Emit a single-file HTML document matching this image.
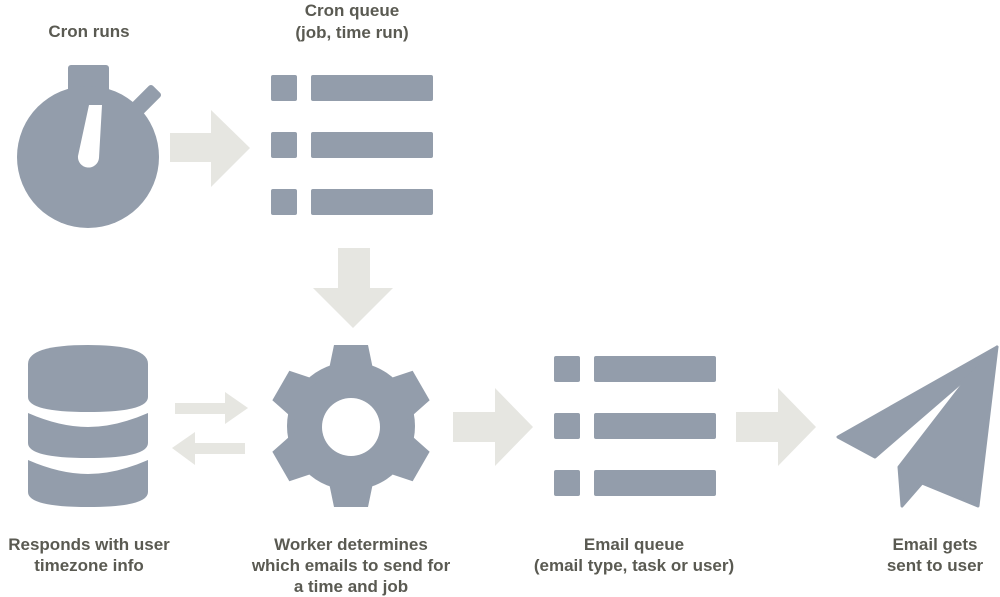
<!DOCTYPE html>
<html><head><meta charset="utf-8"><style>
html,body{margin:0;padding:0;background:#fff;}
svg{display:block}
text{font-family:"Liberation Sans",sans-serif;font-weight:bold;font-size:17px;fill:#5a5a52;text-anchor:middle;}
</style></head><body>
<svg width="1000" height="597" viewBox="0 0 1000 597">
<g fill="#939dab">
  <!-- stopwatch -->
  <rect x="68" y="65" width="41" height="30" rx="3"/>
  <rect x="132" y="92" width="29" height="16" rx="3" transform="rotate(-45 146 100)"/>
  <circle cx="88" cy="157" r="71"/>
</g>
<path d="M89,105 L102,105 L99,158 A10,10 0 1 1 78,156 Z" fill="#fff"/>
<g fill="#e6e6e1">
  <polygon points="170,133 211,133 211,110 250,148 211,187 211,162 170,162"/>
  <polygon points="338,248 370,248 370,288 393,288 353,328 313,288 338,288"/>
  <polygon points="175,403 225,403 225,392 248,408 225,424 225,414 175,414"/>
  <polygon points="245,443 195,443 195,432 172,448 195,465 195,454 245,454"/>
  <polygon points="453,412 495,412 495,388 533,427 495,466 495,442 453,442"/>
  <polygon points="736,412 778,412 778,388 816,427 778,466 778,442 736,442"/>
</g>
<g fill="#939dab">
  <rect x="271" y="75" width="26" height="26" rx="2"/><rect x="311" y="75" width="122" height="26" rx="2"/>
  <rect x="271" y="132" width="26" height="26" rx="2"/><rect x="311" y="132" width="122" height="26" rx="2"/>
  <rect x="271" y="189" width="26" height="26" rx="2"/><rect x="311" y="189" width="122" height="26" rx="2"/>
  <rect x="554" y="356" width="26" height="26" rx="2"/><rect x="594" y="356" width="122" height="26" rx="2"/>
  <rect x="554" y="413" width="26" height="26" rx="2"/><rect x="594" y="413" width="122" height="26" rx="2"/>
  <rect x="554" y="470" width="26" height="26" rx="2"/><rect x="594" y="470" width="122" height="26" rx="2"/>
  <!-- database -->
  <path d="M28,364 Q28,345 88,345 Q148,345 148,364 L148,397 Q148,412 88,412 Q28,412 28,397 Z"/>
  <path d="M28,413 Q60,427 88,427 Q116,427 148,413 L148,443 Q148,458 88,458 Q28,458 28,443 Z"/>
  <path d="M28,460 Q60,474 88,474 Q116,474 148,460 L148,492 Q148,507 88,507 Q28,507 28,492 Z"/>
  <!-- gear -->
  <circle cx="351" cy="426" r="64"/>
  <path d="M334,345 L368,345 L374,374 L328,374 Z"/>
  <path d="M334,345 L368,345 L374,374 L328,374 Z" transform="rotate(60 351 426)"/>
  <path d="M334,345 L368,345 L374,374 L328,374 Z" transform="rotate(120 351 426)"/>
  <path d="M334,345 L368,345 L374,374 L328,374 Z" transform="rotate(180 351 426)"/>
  <path d="M334,345 L368,345 L374,374 L328,374 Z" transform="rotate(240 351 426)"/>
  <path d="M334,345 L368,345 L374,374 L328,374 Z" transform="rotate(300 351 426)"/>
  <!-- plane -->
  <path d="M997,347 L838,437 L875,457 L970,375 Z" stroke="#939dab" stroke-width="3" stroke-linejoin="round"/>
  <path d="M997,347 L978,506 L922,483 L902,506 L899,467 L970,375 Z" stroke="#939dab" stroke-width="3" stroke-linejoin="round"/>
</g>
<circle cx="351" cy="427" r="29" fill="#fff"/>
<text x="89" y="37">Cron runs</text>
<text x="352" y="16">Cron queue</text>
<text x="352" y="38">(job, time run)</text>
<text x="89" y="550">Responds with user</text>
<text x="89" y="571">timezone info</text>
<text x="351" y="550">Worker determines</text>
<text x="351" y="571">which emails to send for</text>
<text x="351" y="592">a time and job</text>
<text x="634" y="550">Email queue</text>
<text x="634" y="571">(email type, task or user)</text>
<text x="935" y="550">Email gets</text>
<text x="935" y="571">sent to user</text>
</svg>
</body></html>
